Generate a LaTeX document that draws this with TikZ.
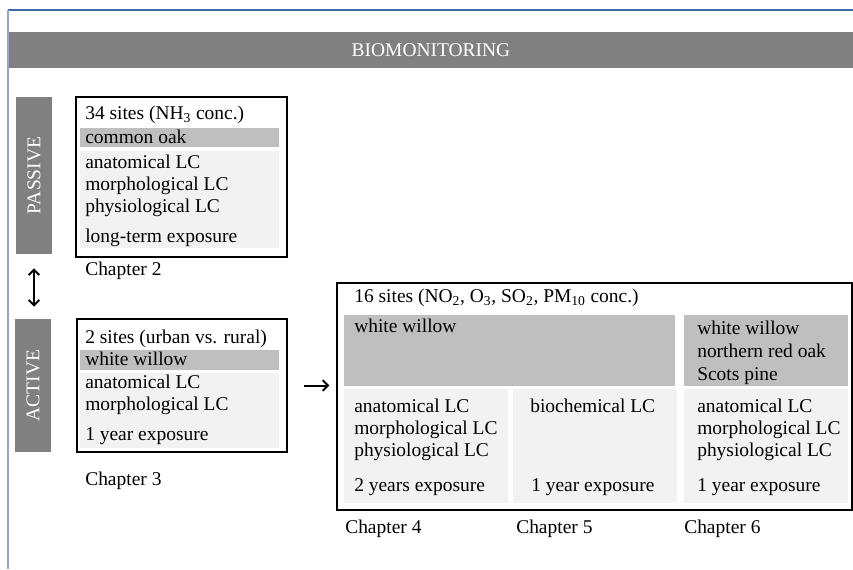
\documentclass[tikz,border=0pt]{standalone}
\usepackage{fontspec}
\setmainfont{Liberation Serif}
\usetikzlibrary{fit,arrows.meta}

\definecolor{bandgray}{HTML}{808080}
\definecolor{speciesgray}{HTML}{BFBFBF}
\definecolor{panelgray}{HTML}{F2F2F2}
\definecolor{frametop}{HTML}{4068A2}
\definecolor{frameleft}{HTML}{93A8C8}

\newcommand{\bodyfont}{\fontsize{14.6}{18}\selectfont}

\tikzset{
  band/.style={fill=bandgray, inner sep=0pt, fit={#1}},
  bandlabel/.style={anchor=center, text=white, inner sep=0pt, font=\bodyfont},
  sitebox/.style={draw=black, line width=0.8pt, inner sep=0pt, fit={#1}},
  species/.style={fill=speciesgray, inner sep=0pt, fit={#1}},
  panel/.style={fill=panelgray, inner sep=0pt, fit={#1}},
  txt/.style={anchor=mid west, inner sep=0pt, yshift=-2pt, font=\bodyfont},
  flow/.style={line width=1.5pt, >={Straight Barb[length=4pt,width=8pt]}}
}

\begin{document}
\begin{tikzpicture}[x=0.75pt, y=-0.75pt]
    \useasboundingbox (0,0) rectangle (853,569);
    % Frame lines
    \draw[frametop, line width=1.1pt] (8,10) -- (853,10);
    \draw[frameleft, line width=1.5pt] (8,10) -- (8,569);
    % Banner
    \node[band={(9,32) (853,68)}] (banner) {};
    \node[bandlabel] (bannerlabel) at (banner) {BIOMONITORING};
    % Side bars
    \node[band={(16,97) (52,254)}] (passivebar) {};
    \node[bandlabel, rotate=90] (passivelabel) at (passivebar) {PASSIVE};
    \node[band={(15,319) (51,452)}] (activebar) {};
    \node[bandlabel, rotate=90] (activelabel) at (activebar) {ACTIVE};
    % Passive box
    \node[sitebox={(76,97) (287,257)}] (passivebox) {};
    \node[species={(80,128) (279,147)}] (passivespecies) {};
    \node[panel={(80,151) (279,248)}] (passivepanel) {};
    \node[txt] (passivesites) at (85,114) {34 sites (NH\textsubscript{3} conc.)};
    \node[txt] (oak) at (85,138) {common oak};
    \node[txt] (passiveanat) at (85,163) {anatomical LC};
    \node[txt] (passivemorph) at (85,185) {morphological LC};
    \node[txt] (passivephys) at (85,207) {physiological LC};
    \node[txt] (passiveexp) at (85,237) {long-term exposure};
    \node[txt] (chaptertwo) at (85,270) {Chapter 2};
    % Active box
    \node[sitebox={(77,319) (287,452)}] (activebox) {};
    \node[species={(80,350) (279,370)}] (activespecies) {};
    \node[panel={(80,373) (279,448)}] (activepanel) {};
    \node[txt] (activesites) at (85,338) {2 sites (urban vs. rural)};
    \node[txt] (willow) at (85,360) {white willow};
    \node[txt] (activeanat) at (85,383) {anatomical LC};
    \node[txt] (activemorph) at (85,405) {morphological LC};
    \node[txt] (activeexp) at (85,435) {1 year exposure};
    \node[txt] (chapterthree) at (85,480) {Chapter 3};
    % Large box
    \node[sitebox={(337,283) (852,510)}] (bigbox) {};
    \node[txt] (bigsites) at (354,297) {16 sites (NO\textsubscript{2}, O\textsubscript{3}, SO\textsubscript{2}, PM\textsubscript{10} conc.)};
    \node[species={(344,315) (675,386)}] (bigspeciesleft) {};
    \node[species={(684,315) (848,386)}] (bigspeciesright) {};
    \node[panel={(344,389) (508,503)}] (panelfour) {};
    \node[panel={(513,389) (677,503)}] (panelfive) {};
    \node[panel={(684,389) (848,503)}] (panelsix) {};
    \node[txt] (willowleft) at (354,327) {white willow};
    \node[txt] (willowright) at (697,329) {white willow};
    \node[txt] (redoak) at (697,352) {northern red oak};
    \node[txt] (pine) at (697,375) {Scots pine};
    % Column of chapter 4
    \node[txt] (anatfour) at (354,407) {anatomical LC};
    \node[txt] (morphfour) at (354,429) {morphological LC};
    \node[txt] (physfour) at (354,451) {physiological LC};
    \node[txt] (expfour) at (354,486) {2 years exposure};
    % Column of chapter 5
    \node[txt] (biochem) at (530,407) {biochemical LC};
    \node[txt] (expfive) at (531,486) {1 year exposure};
    % Column of chapter 6
    \node[txt] (anatsix) at (697,407) {anatomical LC};
    \node[txt] (morphsix) at (697,429) {morphological LC};
    \node[txt] (physsix) at (697,451) {physiological LC};
    \node[txt] (expsix) at (697,486) {1 year exposure};
    % Chapter labels
    \node[txt] (chapterfour) at (345,528) {Chapter 4};
    \node[txt] (chapterfive) at (516,528) {Chapter 5};
    \node[txt] (chaptersix) at (684,528) {Chapter 6};
    % Arrows
    \draw[flow, <->, shorten <=10.5pt, shorten >=9pt] (passivebar.south) -- (passivebar.south |- activebar.north);
    \draw[flow, ->, shorten <=12pt, shorten >=5.25pt] (activebox.east) -- (activebox.east -| bigbox.west);
\end{tikzpicture}
\end{document}
